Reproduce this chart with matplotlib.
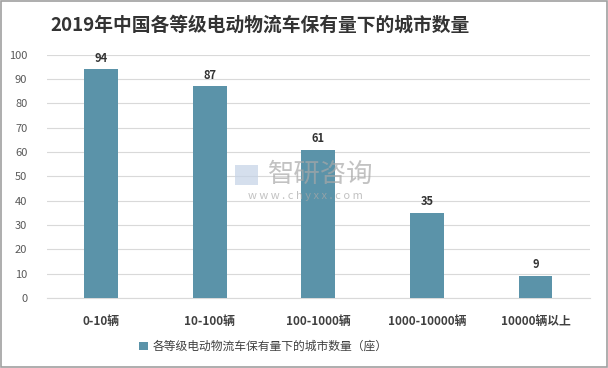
import matplotlib.pyplot as plt
from matplotlib.patches import Rectangle

plt.rcParams['font.family'] = ['Noto Sans CJK SC', 'DejaVu Sans']

categories = ['0-10辆', '10-100辆', '100-1000辆', '1000-10000辆', '10000辆以上']
city_counts = [94, 87, 61, 35, 9]
title = '2019年中国各等级电动物流车保有量下的城市数量'
series_name = '各等级电动物流车保有量下的城市数量（座）'

bar_color = '#5B93A9'

fig = plt.figure(figsize=(6.08, 3.68), dpi=100)
ax = fig.add_axes([0.077, 0.19, 0.893, 0.661])

x = range(len(categories))
bars = ax.bar(x, city_counts, width=0.31, color=bar_color, label=series_name, zorder=3)
for rect, v in zip(bars, city_counts):
    ax.text(rect.get_x() + rect.get_width() / 2, v + 2, str(v), ha='center', va='bottom',
            fontsize=8, fontweight='bold', color='#333333')

ax.set_xlim(-0.5, len(categories) - 0.5)
ax.set_ylim(0, 100)
ax.set_yticks(range(0, 101, 10))
ax.yaxis.grid(True, color='#D9D9D9', linewidth=0.8, zorder=0)
for s in ['top', 'right', 'left']:
    ax.spines[s].set_visible(False)
ax.spines['bottom'].set_color('#D9D9D9')
ax.tick_params(axis='y', length=0, labelsize=8, labelcolor='#595959', pad=14)
ax.tick_params(axis='x', length=0, pad=12)
ax.set_xticks(list(x))
ax.set_xticklabels(categories, fontsize=8.5, fontweight='bold', color='#404040')

fig.text(0.428, 0.932, title, ha='center', va='center', fontsize=13.5, fontweight='bold', color='#333333')

fig.legend(handles=[bars], labels=[series_name], loc='center', bbox_to_anchor=(0.433, 0.058),
           frameon=False, fontsize=8.5, handlelength=0.7, handleheight=0.7, handletextpad=0.4,
           labelcolor='#404040')

# watermark
fig.text(0.528, 0.527, '智研咨询', ha='center', va='center', fontsize=19, color='#A8A8A8', alpha=0.7)
fig.text(0.502, 0.467, 'w w w . c h y x x . c o m', ha='center', va='center', fontsize=8,
         color='#A8A8A8', alpha=0.7)
fig.patches.append(Rectangle((0.387, 0.497), 0.037, 0.054, transform=fig.transFigure,
                             facecolor='#C4D2E6', edgecolor='none', alpha=0.7))

fig.patches.append(Rectangle((0.001, 0.002), 0.997, 0.996, transform=fig.transFigure,
                             fill=False, edgecolor='#A0A0A0', linewidth=1.2))

fig.savefig('out.png', dpi=100)
